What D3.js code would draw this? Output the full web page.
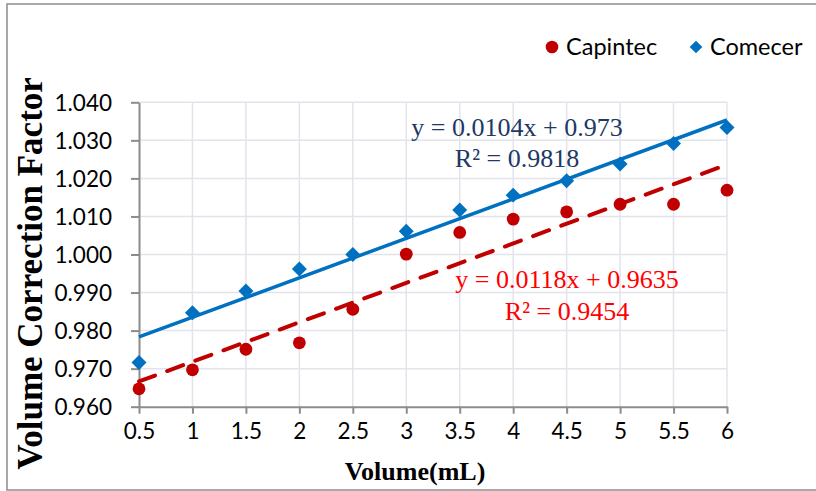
<!DOCTYPE html>
<html>
<head>
<meta charset="utf-8">
<script src="https://cdn.jsdelivr.net/npm/d3@7"></script>
<style>
  html, body { margin: 0; padding: 0; background: #fff; }
  svg { display: block; }
</style>
</head>
<body>
<svg id="chart" width="816" height="491"></svg>
<script>
// Volume settings (mL)
const volumes = [0.5, 1, 1.5, 2, 2.5, 3, 3.5, 4, 4.5, 5, 5.5, 6];
// Volume correction factor measured on each calibrator
const capintec = [0.9647, 0.9697, 0.9751, 0.9768, 0.9856, 1.0001, 1.0058, 1.0093, 1.0112, 1.0132, 1.0132, 1.0169];
const comecer  = [0.9716, 0.9847, 0.9904, 0.9962, 1.0000, 1.0061, 1.0117, 1.0156, 1.0194, 1.0238, 1.0292, 1.0334];
// Axis ticks
const xTicks = [0.5, 1, 1.5, 2, 2.5, 3, 3.5, 4, 4.5, 5, 5.5, 6];
const yTicks = [0.96, 0.97, 0.98, 0.99, 1.00, 1.01, 1.02, 1.03, 1.04];
// Trendline annotations
const comecerEq = ["y = 0.0104x + 0.973", "R² = 0.9818"];
const capintecEq = ["y = 0.0118x + 0.9635", "R² = 0.9454"];

const svg = d3.select("#chart");

const x = d3.scaleLinear().domain([0.5, 6]).range([139, 727]);
const y = d3.scaleLinear().domain([0.96, 1.04]).range([406.7, 102.3]);

const sans = "Lato, 'Open Sans', sans-serif";
const serif = "'Liberation Serif', 'Times New Roman', serif";
const axisGray = "#8c8c8c";
const gridCol = "#e3e3ec";
const blue = "#0070c0";
const red = "#c00000";

// Outer frame
svg.append("rect")
  .attr("x", 7).attr("y", 4).attr("width", 830).attr("height", 486)
  .attr("fill", "#fff").attr("stroke", axisGray).attr("stroke-width", 1.5);

// Gridlines
const grid = svg.append("g");
grid.selectAll("line.h").data(yTicks.slice(1)).join("line")
  .attr("x1", x(0.5)).attr("x2", x(6))
  .attr("y1", d => y(d)).attr("y2", d => y(d))
  .attr("stroke", gridCol).attr("stroke-width", 1.5);
grid.selectAll("line.v").data(xTicks.slice(1)).join("line")
  .attr("x1", d => x(d)).attr("x2", d => x(d))
  .attr("y1", y(0.96)).attr("y2", y(1.04))
  .attr("stroke", gridCol).attr("stroke-width", 1.5);

// Axes
const xAxis = d3.axisBottom(x).tickValues(xTicks).tickSizeInner(7).tickSizeOuter(0)
  .tickFormat(d3.format("~g")).tickPadding(9);
const yAxis = d3.axisLeft(y).tickValues(yTicks).tickSizeInner(8).tickSizeOuter(0)
  .tickFormat(d3.format(".3f")).tickPadding(19);

const gx = svg.append("g").attr("transform", `translate(0,${y(0.96)})`).call(xAxis);
const gy = svg.append("g").attr("transform", `translate(${x(0.5)},0)`).call(yAxis);
[gx, gy].forEach(g => {
  g.select(".domain").attr("stroke", axisGray).attr("stroke-width", 2);
  g.selectAll(".tick line").attr("stroke", axisGray).attr("stroke-width", 2);
  g.selectAll(".tick text").attr("fill", "#000").style("font-family", sans).style("font-size", "22.5px");
});
gx.selectAll(".tick text").attr("dy", "0.71em");
gy.selectAll(".tick text").attr("dy", "0.36em");

// Least-squares trendline through a series
function fit(xs, ys) {
  const mx = d3.mean(xs), my = d3.mean(ys);
  const sxy = d3.sum(xs, (v, i) => (v - mx) * (ys[i] - my));
  const sxx = d3.sum(xs, v => (v - mx) * (v - mx));
  const m = sxy / sxx;
  return { m, b: my - m * mx };
}
const line = d3.line().x(d => x(d[0])).y(d => y(d[1]));
const ends = d3.extent(volumes);

const fCom = fit(volumes, comecer);
svg.append("path")
  .attr("d", line(ends.map(v => [v, fCom.m * v + fCom.b])))
  .attr("fill", "none").attr("stroke", blue).attr("stroke-width", 3.5);

const fCap = fit(volumes, capintec);
svg.append("path")
  .attr("d", line(ends.map(v => [v, fCap.m * v + fCap.b])))
  .attr("fill", "none").attr("stroke", red).attr("stroke-width", 4)
  .attr("stroke-dasharray", "17,13").attr("stroke-linecap", "round");

// Points: Comecer as diamonds, Capintec as dots
const diamond = d3.symbol().type(d3.symbolSquare).size(112);
svg.append("g").selectAll("path").data(volumes).join("path")
  .attr("d", diamond)
  .attr("transform", (d, i) => `translate(${x(d)},${y(comecer[i])}) rotate(45)`)
  .attr("fill", blue);

svg.append("g").selectAll("circle").data(volumes).join("circle")
  .attr("cx", d => x(d)).attr("cy", (d, i) => y(capintec[i]))
  .attr("r", 6.4).attr("fill", red);

// Trendline equations
const eq = svg.append("g").style("font-family", serif).style("font-size", "26px").attr("text-anchor", "middle");
eq.selectAll("text.c").data(comecerEq).join("text")
  .attr("x", 517).attr("y", (d, i) => 136 + i * 31).attr("fill", "#203864").text(d => d);
eq.selectAll("text.r").data(capintecEq).join("text")
  .attr("x", 567).attr("y", (d, i) => 288 + i * 32).attr("fill", "#ff0000").text(d => d);

// Axis titles
svg.append("text")
  .attr("x", 415).attr("y", 480).attr("text-anchor", "middle")
  .style("font-family", serif).style("font-size", "26px").style("font-weight", "bold")
  .text("Volume(mL)");
svg.append("text")
  .attr("transform", "translate(42,273.5) rotate(-90)").attr("text-anchor", "middle")
  .style("font-family", serif).style("font-size", "35px").style("font-weight", "bold")
  .text("Volume Correction Factor");

// Legend
const lg = svg.append("g").style("font-family", sans).style("font-size", "23.5px");
lg.append("circle").attr("cx", 552).attr("cy", 47).attr("r", 6.3).attr("fill", red);
lg.append("text").attr("x", 566).attr("y", 47).attr("dy", "0.36em").text("Capintec");
lg.append("path").attr("d", d3.symbol().type(d3.symbolSquare).size(80))
  .attr("transform", "translate(696,47) rotate(45)").attr("fill", blue);
lg.append("text").attr("x", 710).attr("y", 47).attr("dy", "0.36em").text("Comecer");
</script>
</body>
</html>
